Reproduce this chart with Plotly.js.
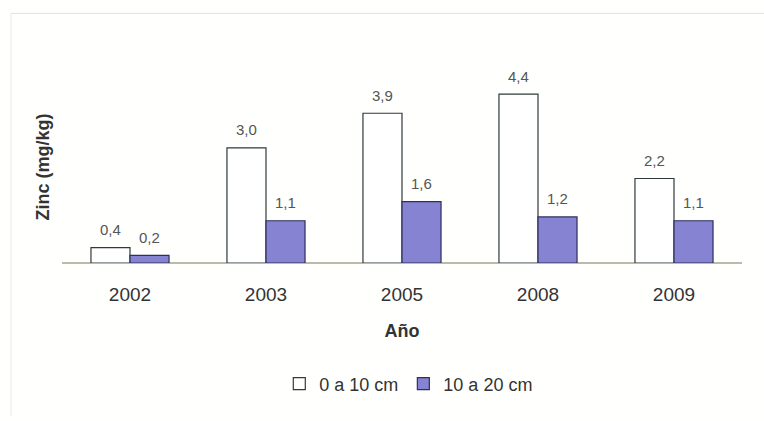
<!DOCTYPE html>
<html><head><meta charset="utf-8">
<script src="https://cdn.plot.ly/plotly-3.0.1.min.js"></script>
<style>html,body{margin:0;padding:0;background:#fff;}#chart{width:764px;height:421px;}</style>
</head><body><div id="chart"></div>
<script>
const years = ['2002','2003','2005','2008','2009'];
const shallow = [0.4, 3.0, 3.9, 4.4, 2.2];
const deep = [0.2, 1.1, 1.6, 1.2, 1.1];
const seriesNames = ['0 a 10 cm', '10 a 20 cm'];

const fmt = v => v.toFixed(1).replace('.', ',');
const barOff = 0.143;
const annotations = [];
years.forEach((y, i) => {
  annotations.push({x: i - barOff, y: shallow[i], xref: 'x', yref: 'y', text: fmt(shallow[i]), showarrow: false, yshift: 18, font: {size: 15, color: '#555'}});
  annotations.push({x: i + barOff, y: deep[i], xref: 'x', yref: 'y', text: fmt(deep[i]), showarrow: false, yshift: 18, font: {size: 15, color: '#555'}});
});

const idx = years.map((_, i) => i);
const data = [
  {type: 'bar', x: idx, y: shallow, name: seriesNames[0], marker: {color: '#ffffff', line: {color: '#2f3b3b', width: 1.2}}},
  {type: 'bar', x: idx, y: deep, name: seriesNames[1], marker: {color: '#8684d2', line: {color: '#2e2f5c', width: 1.2}}}
];
const layout = {
  width: 764, height: 421,
  paper_bgcolor: '#fffffd', plot_bgcolor: 'rgba(0,0,0,0)',
  font: {family: 'Liberation Sans, Arial, sans-serif', color: '#333'},
  margin: {l: 62, r: 22, t: 71, b: 158},
  barmode: 'group', bargap: 0.426, bargroupgap: 0,
  separators: ',.',
  showlegend: true,
  legend: {orientation: 'h', x: 0.51, xanchor: 'center', y: -0.63, yanchor: 'middle', font: {size: 18, color: '#333'}, itemwidth: 30, traceorder: 'normal'},
  xaxis: {tickmode: 'array', tickvals: idx, ticktext: years, range: [-0.5, 4.5], showline: false, showgrid: false, zeroline: false,
          ticks: 'outside', ticklen: 14, tickcolor: 'rgba(0,0,0,0)', tickfont: {size: 19, color: '#333'},
          title: {text: '<b>Año</b>', font: {size: 18, color: '#333'}, standoff: 20}},
  yaxis: {range: [0, 5], showgrid: false, showticklabels: false, ticks: '', zeroline: true, zerolinecolor: '#bbbbaa', zerolinewidth: 1.5,
          title: {text: '<b>Zinc (mg/kg)</b>', font: {size: 18, color: '#333'}, standoff: 6}},
  annotations: annotations,
  shapes: [
    {type: 'line', xref: 'paper', yref: 'paper', x0: -0.075, x1: 1.035, y0: 1.3, y1: 1.3, line: {color: '#e6e3cc', width: 1}},
    {type: 'line', xref: 'paper', yref: 'paper', x0: -0.075, x1: -0.075, y0: 1.3, y1: -0.8, line: {color: '#ecebe0', width: 1}}
  ]
};
Plotly.newPlot('chart', data, layout, {displayModeBar: false, staticPlot: true});
</script></body></html>
